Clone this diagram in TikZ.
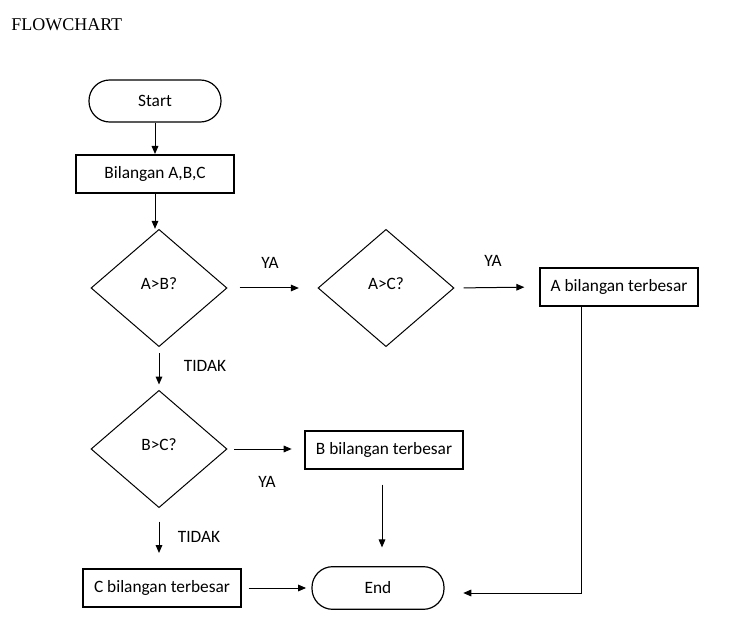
\documentclass[tikz,border=0pt]{standalone}
\usepackage{fontspec}
\setmainfont{Carlito}
\newfontfamily\titlefont{Liberation Serif}
\usetikzlibrary{shapes.geometric, arrows.meta}

\tikzset{
	terminal/.style={draw, rectangle, rounded corners=15.5pt, line width=0.9pt, minimum width=99pt, minimum height=31.5pt},
	process/.style={draw, rectangle, line width=1.5pt, minimum width=119pt, minimum height=28.5pt},
	decision/.style={draw, diamond, line width=0.75pt, inner sep=0pt, minimum width=102pt, minimum height=88pt, text depth=7pt},
	flow/.style={-{Triangle[length=6pt,width=5pt]}, line width=0.75pt},
	answer/.style={inner sep=0pt}
}

\begin{document}
\begin{tikzpicture}[x=0.75pt, y=-0.75pt, font=\fontsize{13pt}{15pt}\selectfont]
					\useasboundingbox (0,0) rectangle (756,641);

					\node[anchor=west, inner sep=0pt, font=\titlefont\fontsize{13.5pt}{16pt}\selectfont] (title) at (11,25) {FLOWCHART};

					% nodes
					\node[terminal] (start) at (155,101) {Start};
					\node[process] (input) at (155,174) {Bilangan A,B,C};
					\node[decision] (ab) at (159,288) {A>B?};
					\node[decision] (ac) at (386,288) {A>C?};
					\node[process, minimum width=118.5pt] (amax) at (619,287) {A bilangan terbesar};
					\node[decision] (bc) at (159,449) {B>C?};
					\node[process] (bmax) at (384,450) {B bilangan terbesar};
					\node[process, minimum height=29pt, minimum width=118.5pt] (cmax) at (162,588) {C bilangan terbesar};
					\node[terminal, minimum height=32pt] (end) at (378,588) {End};
					\coordinate (turn) at (581,593);

					% labels
					\node[answer] (ya1) at (270,263) {YA};
					\node[answer] (ya2) at (493,261) {YA};
					\node[answer] (tidak1) at (205,366) {TIDAK};
					\node[answer] (ya3) at (267,482) {YA};
					\node[answer] (tidak2) at (199,537) {TIDAK};

					% connectors
					\begin{scope}[flow]
						\draw (start.south) -- (input.north);
						\draw (input.south) -- (input.south |- ab.north);
						\draw[shorten <=9pt, shorten >=14pt] (ab.east) -- (ac.west);
						\draw[shorten <=6.75pt, shorten >=11pt] (ac.east) -- (amax.west);
						\draw[shorten <=4.5pt, shorten >=4pt] (ab.south) -- (bc.north);
						\draw[shorten <=5pt, shorten >=9pt] (bc.east) -- (bc.east -| bmax.west);
						\draw[shorten <=11pt, shorten >=14pt] ([xshift=-1.5pt]bmax.south) -- ([xshift=-1.5pt]bmax.south |- end.north);
						\draw[shorten <=10pt, shorten >=11pt] (bc.south) -- (bc.south |- cmax.north);
						\draw[shorten <=5pt, shorten >=4pt] (cmax.east) -- (end.west);
						\draw[shorten >=14pt] (amax.south -| turn) -- (turn) -- (end.east |- turn);
					\end{scope}
				\end{tikzpicture}
\end{document}
